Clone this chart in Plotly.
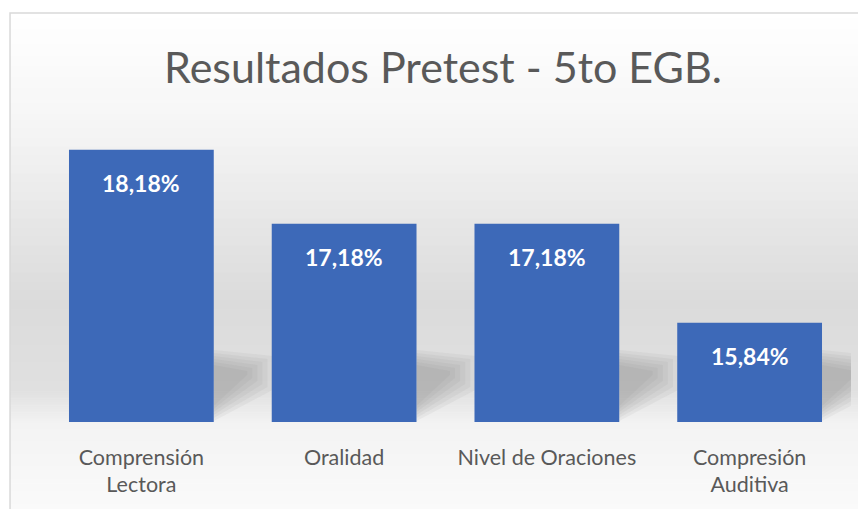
import plotly.graph_objects as go

# data
categories = ["Comprensión<br>Lectora", "Oralidad", "Nivel de Oraciones", "Compresión<br>Auditiva"]
values = [18.18, 17.18, 17.18, 15.84]
labels = ["18,18%", "17,18%", "17,18%", "15,84%"]

W, H = 866, 509
OFF = 8  # page body margin
L, R, T, B = 40 - OFF, 14.5 + OFF, 126 - OFF, 87 + OFF
ph = H - T - B
pw = W - L - R

def py(y):
    # screen pixel row -> paper y
    return (H - B - (y - OFF)) / ph

def px_(x):
    return (x - OFF - L) / pw

fig = go.Figure()

fig.add_trace(go.Bar(
    x=categories,
    y=values,
    marker=dict(color="#3d69b8", line=dict(width=0)),
    hoverinfo="skip",
))

# white value labels near top of each bar
for c, v, t in zip(categories, values, labels):
    fig.add_annotation(x=c, y=v, text="<b>" + t + "</b>", showarrow=False,
                       yshift=-33, font=dict(family="Lato", size=23, color="white"))

# background bands (white at top -> gray middle -> light bottom)
stops = [(13, 255), (120, 246), (300, 219), (390, 224), (425, 243), (509, 250)]
shapes = []
for (y0, c0), (y1, c1) in zip(stops[:-1], stops[1:]):
    n = 20
    for i in range(n):
        a = y0 + (y1 - y0) * i / n
        b = y0 + (y1 - y0) * (i + 1) / n
        c = int(round(c0 + (c1 - c0) * (i + 0.5) / n))
        shapes.append(dict(type="rect", xref="paper", yref="paper",
                           x0=px_(10), x1=px_(W + 20), y0=py(b), y1=py(a) + 0.002,
                           fillcolor=f"rgb({c},{c},{c})", line=dict(width=0), layer="below"))

# soft perspective shadows to the right of each bar
half = (1 - 0.286) / 2
for i in range(len(categories)):
    xr = i + half
    for k in range(6):
        d = k * 3
        x1 = xr + 0.29 - k * 0.025
        path = (f"M {xr},{py(350 + d)} L {x1},{py(356 + d)} "
                f"L {x1},{py(390 - d)} L {xr},{py(421 - d)} Z")
        shapes.append(dict(type="path", xref="x", yref="paper", path=path,
                           fillcolor="rgba(120,120,120,0.07)", line=dict(width=0),
                           layer="below"))

shapes.append(dict(type="rect", xref="paper", yref="paper",
                   x0=px_(10), x1=px_(W + 20), y0=py(H + 20), y1=py(13),
                   fillcolor="rgba(0,0,0,0)", line=dict(color="#d9d9d9", width=1.5), layer="above"))

fig.update_layout(
    width=W, height=H,
    margin=dict(l=L, r=R, t=T, b=B),
    paper_bgcolor="white",
    plot_bgcolor="rgba(0,0,0,0)",
    showlegend=False,
    bargap=0.286,
    shapes=shapes,
    title=dict(text="Resultados Pretest - 5to EGB.", x=px_(443) * pw / W + L / W,
               xanchor="center", y=1 - (68 - OFF) / H, yanchor="middle",
               font=dict(family="Lato", size=43, color="#595959")),
    xaxis=dict(range=[-0.5, 3.5], showgrid=False, showline=False, zeroline=False,
               ticks="", ticklabelstandoff=20,
               tickfont=dict(family="Lato", size=21.5, color="#595959")),
    yaxis=dict(range=[14.5, 18.5], visible=False, showgrid=False, zeroline=False),
)

fig.write_html("out.html")
